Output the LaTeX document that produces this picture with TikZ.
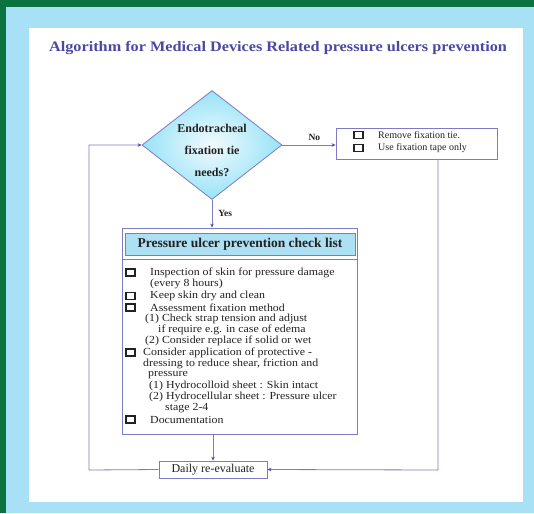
\documentclass[tikz,border=0pt]{standalone}
\usepackage{fontspec}
\setmainfont{Liberation Serif}
\usetikzlibrary{shapes.geometric,arrows.meta}
\definecolor{framec}{HTML}{0B7340}
\definecolor{bandc}{HTML}{A8E0F6}
\definecolor{linec}{HTML}{7C7CC6}
\definecolor{tipc}{HTML}{4A4AB0}
\definecolor{titlec}{HTML}{4B47A3}
\definecolor{hdrc}{HTML}{AEE0F4}
\definecolor{textc}{HTML}{222222}
\newcommand{\xwide}[1]{\scalebox{1.1}[1]{#1}}
\begin{document}
\begin{tikzpicture}[x=1pt,y=-1pt,
  conn/.style={draw=linec,line width=0.8pt},
  arr/.style={conn,-{Stealth[length=4pt,width=3.5pt,color=tipc]}},
  boxn/.style={draw=linec,line width=0.8pt,rectangle,inner sep=0pt},
  cb/.style={draw=textc,line width=1.1pt,rectangle,inner sep=0pt,minimum width=9pt,minimum height=7pt},
  item/.style={anchor=west,inner sep=0pt,text=textc,font=\fontsize{10.8}{12}\selectfont},
  small/.style={anchor=west,inner sep=0pt,text=textc,font=\fontsize{10}{11}\selectfont},
  lbl/.style={inner sep=0pt,text=textc,font=\bfseries\fontsize{9.5}{10}\selectfont}]
\useasboundingbox (0,0) rectangle (534,513);
\fill[bandc] (0,0) rectangle (534,513);
\fill[framec] (0,0) rectangle (534,7);
\fill[framec] (0,0) rectangle (6,513);
\fill[white] (29,28) rectangle (523,502);

\node[text=titlec,font=\bfseries\fontsize{14.5}{16}\selectfont,inner sep=0pt] (title) at (278,48)
  {\scalebox{1.12}[1]{Algorithm for Medical Devices Related pressure ulcers prevention}};

% decision
\node[diamond,draw=linec,line width=0.8pt,inner color=white!85!bandc,outer color=bandc!90!cyan,
      minimum width=140pt,minimum height=109pt,inner sep=0pt] (d) at (212,145) {};
\node[align=center,text=textc,font=\bfseries\fontsize{12}{22}\selectfont,inner sep=0pt] (dt) at (212,150)
  {Endotracheal\\fixation tie\\needs?};

% remove box
\node[boxn,minimum width=161pt,minimum height=31pt] (rm) at (416.5,143.5) {};
\node[cb] (rb1) at (358.5,135) {};
\node[cb] (rb2) at (358.5,148) {};
\node[small] (rt1) at (378,135) {Remove fixation tie.};
\node[small] (rt2) at (378,148) {Use fixation tape only};

% checklist
\node[boxn,minimum width=235pt,minimum height=206pt] (cl) at (239.5,331) {};
\node[boxn,fill=hdrc,minimum width=230pt,minimum height=22pt,text=textc,
      font=\bfseries\fontsize{13.5}{15}\selectfont] (hd) at (240,244) {Pressure ulcer prevention check list};
\coordinate (s1) at (122,259);
\coordinate (s2) at (357,259);
\draw[conn] (s1) -- (s2);

\node[cb] (c1) at (130.5,272.5) {};
\node[cb] (c2) at (130.5,296) {};
\node[cb] (c3) at (130.5,307.5) {};
\node[cb] (c4) at (130.5,352.5) {};
\node[cb] (c5) at (130.5,419.5) {};
\node[item] (i1) at (150,273) {\xwide{Inspection of skin for pressure damage}};
\node[item] (i2) at (150,284) {\xwide{(every 8 hours)}};
\node[item] (i3) at (150,296) {\xwide{Keep skin dry and clean}};
\node[item] (i4) at (150,308) {\xwide{Assessment fixation method}};
\node[item] (i5) at (145,319) {\xwide{(1) Check strap tension and adjust}};
\node[item] (i6) at (158,330) {\xwide{if require e.g. in case of edema}};
\node[item] (i7) at (145,341) {\xwide{(2) Consider replace if solid or wet}};
\node[item] (i8) at (143,353) {\xwide{Consider application of protective -}};
\node[item] (i9) at (143,364) {\xwide{dressing to reduce shear, friction and}};
\node[item] (i10) at (148,375) {\xwide{pressure}};
\node[item] (i11) at (149,386) {\xwide{(1) Hydrocolloid sheet : Skin intact}};
\node[item] (i12) at (149,397) {\xwide{(2) Hydrocellular sheet : Pressure ulcer}};
\node[item] (i13) at (165,408) {\xwide{stage 2-4}};
\node[item] (i14) at (150,420) {\xwide{Documentation}};

% daily
\node[boxn,minimum width=108pt,minimum height=17pt,text=textc,font=\fontsize{12}{13}\selectfont] (dy) at (213,469.5) {Daily re-evaluate};

% connectors
\draw[arr] (d.east) -- node[lbl,above=4pt,pos=0.6] (no) {No} (d.east -| rm.west);
\draw[arr] (d.south) -- node[lbl,right=6pt,pos=0.5] (yes) {Yes} (d.south |- cl.north);
\draw[arr] (cl.south -| dy.north) -- (dy.north);
\coordinate (k1) at (438,470);
\draw[arr] (k1 |- rm.south) -- (k1) -- (dy.east);
\coordinate (k2) at (89,470);
\draw[arr] (dy.west) -- (k2) |- (d.west);
\end{tikzpicture}
\end{document}
